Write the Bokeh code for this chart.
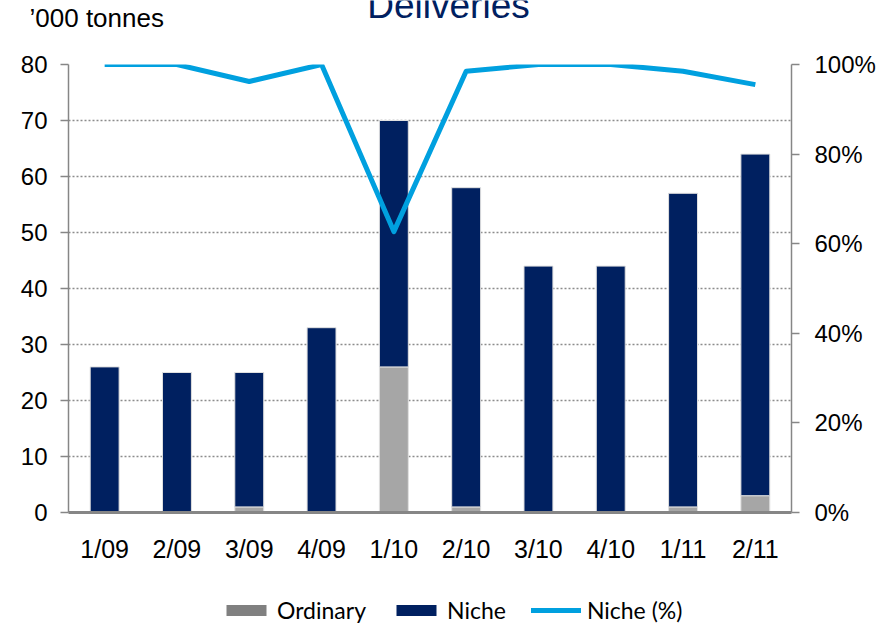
from bokeh.plotting import figure
from bokeh.layouts import column
from bokeh.models import (Range1d, LinearAxis, Label, Legend, LegendItem,
                          NumeralTickFormatter, FixedTicker, ColumnDataSource)
from bokeh.embed import file_html
from bokeh.resources import INLINE

quarters = ["1/09", "2/09", "3/09", "4/09", "1/10", "2/10", "3/10", "4/10", "1/11", "2/11"]
ordinary = [0, 0, 1, 0, 26, 1, 0, 0, 1, 3]
niche = [26, 25, 24, 33, 44, 57, 44, 44, 56, 61]
niche_pct = [1.00, 1.00, 0.962, 1.00, 0.627, 0.985, 1.00, 1.00, 0.985, 0.955]
legend_labels = ["Ordinary", "Niche", "Niche (%)"]
title_text = "Deliveries"
unit_text = "\u2019000 tonnes"

FONT = "Liberation Sans"
AX = "#868686"
C_ORD, C_ORD_LEG, C_NICHE, C_PCT = "#A6A6A6", "#808080", "#002060", "#00A0DF"
W = 885
TOP_H, LEG_H = 46, 40
MAIN_H = 624 - TOP_H - LEG_H


def blank(h):
    f = figure(width=W, height=h, x_range=Range1d(0, 1), y_range=Range1d(0, 1),
               x_axis_type=None, y_axis_type=None, output_backend="svg",
               toolbar_location=None, min_border=0, frame_align=False)
    f.outline_line_color = None
    f.xgrid.grid_line_color = None
    f.ygrid.grid_line_color = None
    return f


# ---- top strip: title and unit ----
top = blank(TOP_H)
top.add_layout(Label(x=29, y=TOP_H - 17, x_units="screen", y_units="screen",
                     text=unit_text, text_font=FONT, text_font_size="26px",
                     text_color="#000000", text_baseline="alphabetic"))
top.add_layout(Label(x=448, y=TOP_H - 5, x_units="screen", y_units="screen",
                     text=title_text, text_font=FONT, text_font_size="37px",
                     text_color=C_NICHE, text_align="center", text_baseline="alphabetic"))

# ---- main chart ----
src = ColumnDataSource(dict(q=quarters, ordinary=ordinary, niche=niche, pct=niche_pct))
FRAME_TOP, FRAME_BOTTOM = 64, 512
p = figure(x_range=quarters, y_range=Range1d(0, 80), width=W, height=MAIN_H,
           output_backend="svg", toolbar_location=None, frame_align=False,
           min_border_left=68, min_border_right=94,
           min_border_top=FRAME_TOP - TOP_H,
           min_border_bottom=TOP_H + MAIN_H - FRAME_BOTTOM)
p.extra_y_ranges = {"pct": Range1d(0, 1)}
p.outline_line_color = None

bars = p.vbar_stack(["ordinary", "niche"], x="q", width=0.4, source=src,
                    color=[C_ORD, C_NICHE], line_color="#E0E0E0", line_width=1)
p.line(x="q", y="pct", source=src, y_range_name="pct",
       line_color=C_PCT, line_width=5, line_join="round")

p.yaxis.ticker = FixedTicker(ticks=list(range(0, 81, 10)))
ya = p.yaxis[0]
ra = LinearAxis(y_range_name="pct", ticker=FixedTicker(ticks=[0, 0.2, 0.4, 0.6, 0.8, 1.0]),
                formatter=NumeralTickFormatter(format="0%"))
p.add_layout(ra, "right")
for ax, so in [(ya, 13), (ra, 15)]:
    ax.axis_line_color = AX
    ax.axis_line_width = 1.5
    ax.major_tick_line_color = AX
    ax.major_tick_line_width = 1.5
    ax.major_tick_out = 8
    ax.major_tick_in = 0
    ax.minor_tick_line_color = None
    ax.major_label_standoff = so
    ax.major_label_text_font = FONT
    ax.major_label_text_font_size = "24px"
    ax.major_label_text_color = "#000000"

xa = p.xaxis[0]
xa.axis_line_color = AX
xa.axis_line_width = 3
xa.major_tick_line_color = None
xa.major_tick_out = 0
xa.major_tick_in = 0
xa.major_label_standoff = 22
xa.major_label_text_font = FONT
xa.major_label_text_font_size = "25px"
xa.major_label_text_color = "#000000"

p.xgrid.grid_line_color = None
p.ygrid.grid_line_color = "#8C8C8C"
p.ygrid.grid_line_dash = "2 2"
p.ygrid.grid_line_width = 1.5

# ---- legend strip (dummy zero-size renderers carry the legend styles) ----
leg = blank(LEG_H)
r_ord = leg.vbar(x=[0.5], top=[0], bottom=[0], width=0.0, fill_color=C_ORD_LEG, line_color=None)
r_nic = leg.vbar(x=[0.5], top=[0], bottom=[0], width=0.0, fill_color=C_NICHE, line_color=None)
r_pct = leg.line(x=[0.5], y=[0.5], line_color=C_PCT, line_width=5, line_cap="round")
legend = Legend(items=[LegendItem(label=l, renderers=[r])
                       for l, r in zip(legend_labels, [r_ord, r_nic, r_pct])],
                orientation="horizontal", location=(221, 0))
legend.label_text_font = "Lato"
legend.label_text_font_size = "23px"
legend.label_text_color = "#000000"
legend.glyph_width = 50
legend.glyph_height = 14
legend.label_standoff = 6
legend.spacing = 25
legend.padding = 0
legend.margin = 0
legend.border_line_color = None
legend.background_fill_alpha = 0
leg.add_layout(legend, "center")

layout = column(top, p, leg, spacing=0)
open("out.html", "w").write(file_html(layout, INLINE))
